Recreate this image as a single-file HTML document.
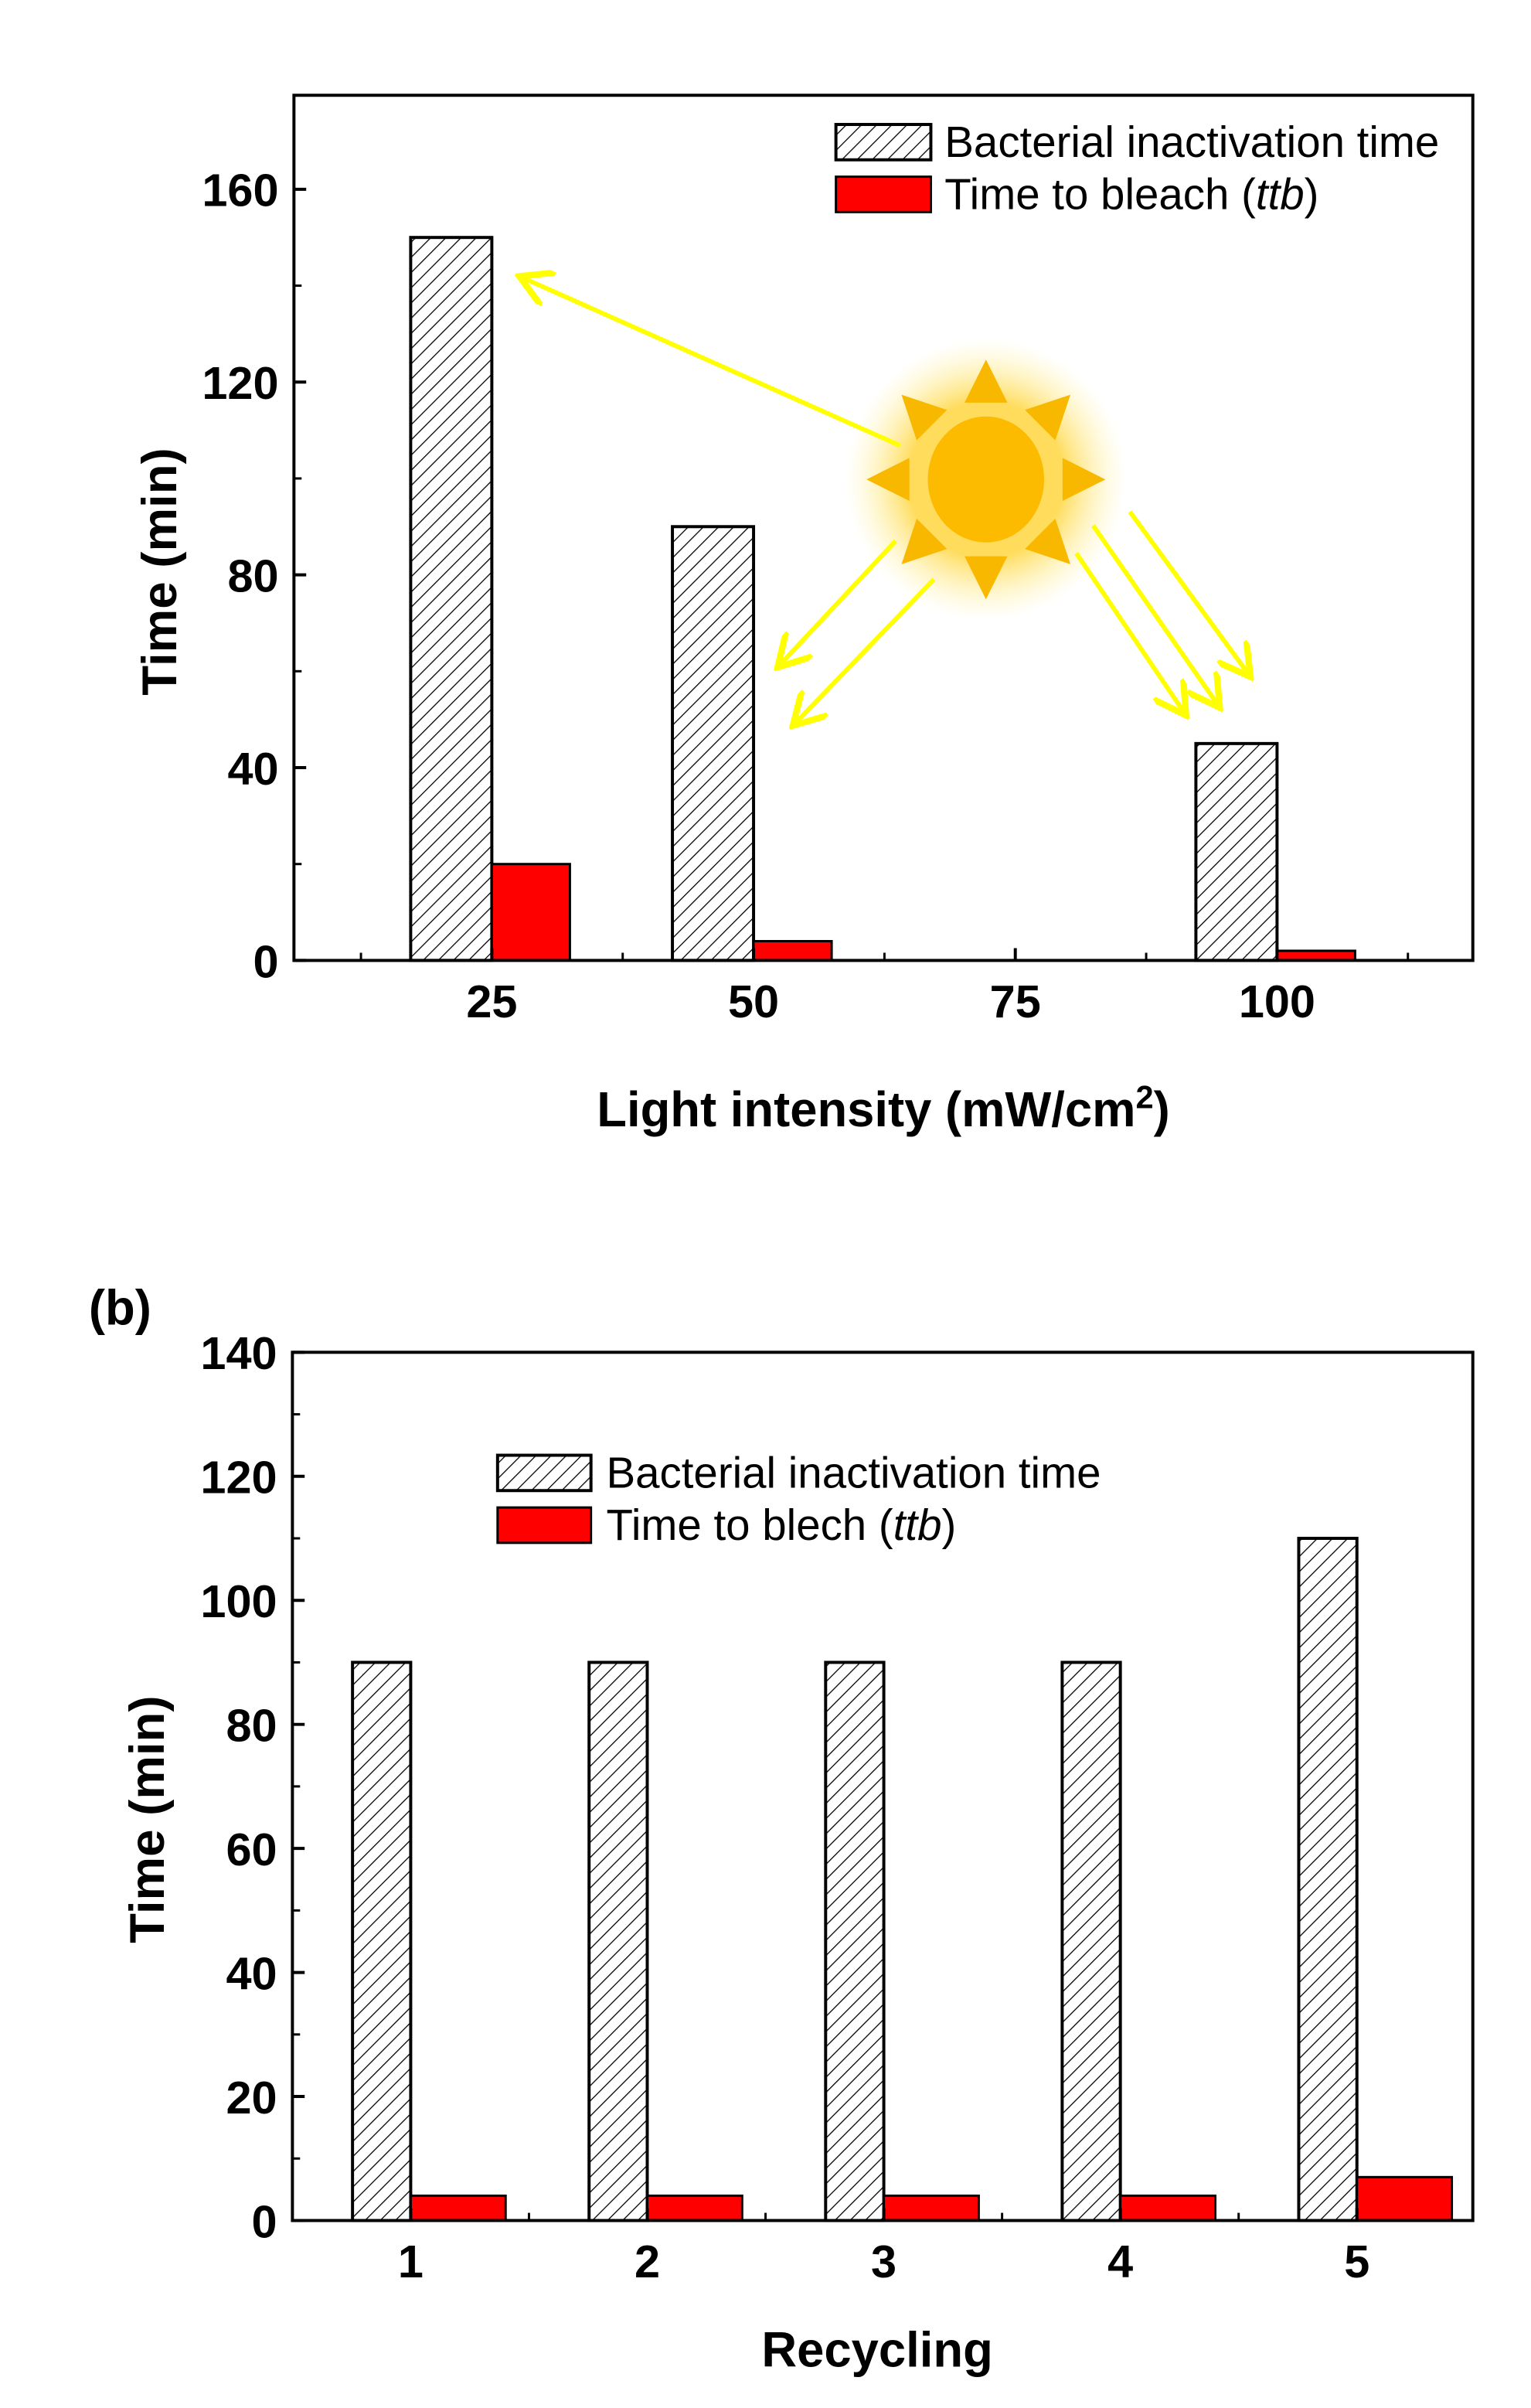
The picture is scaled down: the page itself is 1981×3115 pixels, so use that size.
<!DOCTYPE html>
<html><head><meta charset="utf-8"><style>
html,body{margin:0;padding:0;background:#fff;}
svg{display:block;}
text{font-family:"Liberation Sans",Arial,sans-serif;}
.tk{font-size:30px;font-weight:bold;}
.ax{font-size:32px;font-weight:bold;}
.lg{font-size:28.5px;}
</style></head><body>
<svg id="fig" width="1981" height="3115" viewBox="0 0 1000 1567" preserveAspectRatio="none" xmlns="http://www.w3.org/2000/svg">
<defs>
<pattern id="hatch" patternUnits="userSpaceOnUse" width="7" height="7" patternTransform="rotate(45)">
<rect width="7" height="7" fill="#fff"/><line x1="0" y1="0" x2="0" y2="7" stroke="#000" stroke-width="1.3"/>
</pattern>
<radialGradient id="glow"><stop offset="0.55" stop-color="#ffd84a" stop-opacity="0.9"/><stop offset="1" stop-color="#fff6b0" stop-opacity="0"/></radialGradient>
<marker id="arr" markerWidth="8" markerHeight="8" refX="6" refY="4" orient="auto" markerUnits="strokeWidth"><path d="M0,0 L7,4 L0,8" fill="none" stroke="#ffff00" stroke-width="1.4"/></marker>
</defs>
<g id="pa"></g>
<g id="pb"></g>
</svg>
<script>
// Panel A data
const catsA = [25, 50, 100];
const inactA = [150, 90, 45];
const bleachA = [20, 4, 2];
const xTicksA = [25, 50, 75, 100];
const yTicksA = [0, 40, 80, 120, 160];
// Panel B data
const catsB = [1, 2, 3, 4, 5];
const inactB = [90, 90, 90, 90, 110];
const bleachB = [4, 4, 4, 4, 7];
const yTicksB = [0, 20, 40, 60, 80, 100, 120, 140];

const NS = "http://www.w3.org/2000/svg";
function mk(parent, tag, attrs, txt){
  const e = document.createElementNS(NS, tag);
  for (const k in attrs) e.setAttribute(k, attrs[k]);
  if (txt !== undefined) e.textContent = txt;
  parent.appendChild(e);
  return e;
}

function drawPanel(g, o){
  const sx = v => o.x0 + (v - o.xmin) / (o.xmax - o.xmin) * (o.x1 - o.x0);
  const sy = v => o.y1 - (v - o.ymin) / (o.ymax - o.ymin) * (o.y1 - o.y0);
  o.cats.forEach((c, i) => {
    const xc = sx(c);
    const h = mk(g, 'rect', {x: xc - o.hw, y: sy(o.inact[i]), width: o.hw, height: sy(0) - sy(o.inact[i]), fill: 'url(#hatch)', stroke: '#000', 'stroke-width': 2});
    
    
    const r = mk(g, 'rect', {x: xc, y: sy(o.bleach[i]), width: o.rw, height: sy(0) - sy(o.bleach[i]), fill: '#ff0000', stroke: '#000', 'stroke-width': 1.5});
    
    
  });
  const f = mk(g, 'rect', {x: o.x0, y: o.y0, width: o.x1 - o.x0, height: o.y1 - o.y0, fill: 'none', stroke: '#000', 'stroke-width': 2});
  
  
  o.yticks.forEach(v => {
    mk(g, 'line', {x1: o.x0, x2: o.x0 + 8, y1: sy(v), y2: sy(v), stroke: '#000', 'stroke-width': 2});
    const t = mk(g, 'text', {x: o.x0 - 10, y: sy(v) + 11, 'text-anchor': 'end', class: 'tk'}, v);
    
    
  });
  o.yminor.forEach(v => {
    mk(g, 'line', {x1: o.x0, x2: o.x0 + 5, y1: sy(v), y2: sy(v), stroke: '#000', 'stroke-width': 1.5});
  });
  o.xticks.forEach(v => {
    mk(g, 'line', {x1: sx(v), x2: sx(v), y1: o.y1, y2: o.y1 - 8, stroke: '#000', 'stroke-width': 2});
    const t = mk(g, 'text', {x: sx(v), y: o.y1 + 37, 'text-anchor': 'middle', class: 'tk'}, v);
    
    
  });
  o.xminor.forEach(v => {
    mk(g, 'line', {x1: sx(v), x2: sx(v), y1: o.y1, y2: o.y1 - 5, stroke: '#000', 'stroke-width': 1.5});
  });
}

const ga = document.getElementById('pa');
drawPanel(ga, {x0:192, x1:962, y0:62, y1:625, xmin:6.1, xmax:118.7, ymin:0, ymax:179.5,
  cats:catsA, inact:inactA, bleach:bleachA, hw:53, rw:51, yticks:yTicksA, yminor:[20,60,100,140],
  xticks:xTicksA, xminor:[12.5,37.5,62.5,87.5,112.5]});
const gb = document.getElementById('pb');
drawPanel(gb, {x0:191, x1:962, y0:880, y1:1445, xmin:0.5, xmax:5.49, ymin:0, ymax:140,
  cats:catsB, inact:inactB, bleach:bleachB, hw:38, rw:62, yticks:yTicksB, yminor:[10,30,50,70,90,110,130],
  xticks:catsB, xminor:[1.5,2.5,3.5,4.5]});
</script>
<script>
(function(){
const svg = document.getElementById('fig');
const NS = "http://www.w3.org/2000/svg";
function mk(parent, tag, attrs, txt){
  const e = document.createElementNS(NS, tag);
  for (const k in attrs) e.setAttribute(k, attrs[k]);
  if (txt !== undefined) e.textContent = txt;
  parent.appendChild(e); return e;
}
const sun = mk(svg, 'g', {});


mk(sun, 'circle', {cx:644, cy:312, r:92, fill:'url(#glow)'});
for (let k = 0; k < 8; k++){
  const a = k * Math.PI / 4 - Math.PI/2;
  const tip = [644 + 78*Math.cos(a), 312 + 78*Math.sin(a)];
  const pa = a + Math.PI/2;
  const b1 = [644 + 50*Math.cos(a) + 14*Math.cos(pa), 312 + 50*Math.sin(a) + 14*Math.sin(pa)];
  const b2 = [644 + 50*Math.cos(a) - 14*Math.cos(pa), 312 + 50*Math.sin(a) - 14*Math.sin(pa)];
  mk(sun, 'polygon', {points: tip.join(',') + ' ' + b1.join(',') + ' ' + b2.join(','), fill:'#f9b800'});
}
mk(sun, 'ellipse', {cx:644, cy:312, rx:38, ry:41, fill:'#fdbb00'});
const arrows = [[588,290,342,181],[585,352,510,432],[610,377,520,470],[703,360,773,463],[714,342,795,458],[738,333,815,438]];
arrows.forEach(p => {
  const l = mk(svg, 'line', {x1:p[0], y1:p[1], x2:p[2], y2:p[3], stroke:'#ffff00', 'stroke-width':3, 'marker-end':'url(#arr)'});
  
  
});
const la = mk(svg, 'g', {});


mk(la, 'rect', {x:546, y:81, width:62, height:23, fill:'url(#hatch)', stroke:'#000', 'stroke-width':2});
mk(la, 'text', {x:617, y:102, class:'lg'}, 'Bacterial inactivation time');
mk(la, 'rect', {x:546, y:115, width:62, height:23, fill:'#ff0000', stroke:'#000', 'stroke-width':1.5});
const t1 = mk(la, 'text', {x:617, y:136, class:'lg'}, 'Time to bleach (');
mk(t1, 'tspan', {'font-style':'italic'}, 'ttb');
mk(t1, 'tspan', {}, ')');
const lb = mk(svg, 'g', {});


mk(lb, 'rect', {x:325, y:947, width:61, height:23, fill:'url(#hatch)', stroke:'#000', 'stroke-width':2});
mk(lb, 'text', {x:396, y:968, class:'lg'}, 'Bacterial inactivation time');
mk(lb, 'rect', {x:325, y:981, width:61, height:23, fill:'#ff0000', stroke:'#000', 'stroke-width':1.5});
const t2 = mk(lb, 'text', {x:396, y:1002, class:'lg'}, 'Time to blech (');
mk(t2, 'tspan', {'font-style':'italic'}, 'ttb');
mk(t2, 'tspan', {}, ')');
let e;
e = mk(svg, 'text', {x:0, y:0, class:'ax', 'text-anchor':'middle', transform:'translate(115,372) rotate(-90)'}, 'Time (min)');
 
e = mk(svg, 'text', {x:577, y:733, class:'ax', 'text-anchor':'middle', 'font-size':33}, 'Light intensity  (mW/cm');
mk(e, 'tspan', {dy:-12, 'font-size':21}, '2');
mk(e, 'tspan', {dy:12}, ')');
 
e = mk(svg, 'text', {x:0, y:0, class:'ax', 'text-anchor':'middle', transform:'translate(107,1184) rotate(-90)'}, 'Time (min)');
 
e = mk(svg, 'text', {x:573, y:1540, class:'ax', 'text-anchor':'middle'}, 'Recycling');
 
e = mk(svg, 'text', {x:58, y:862, class:'ax'}, '(b)');
 
})();
</script>
</body></html>
